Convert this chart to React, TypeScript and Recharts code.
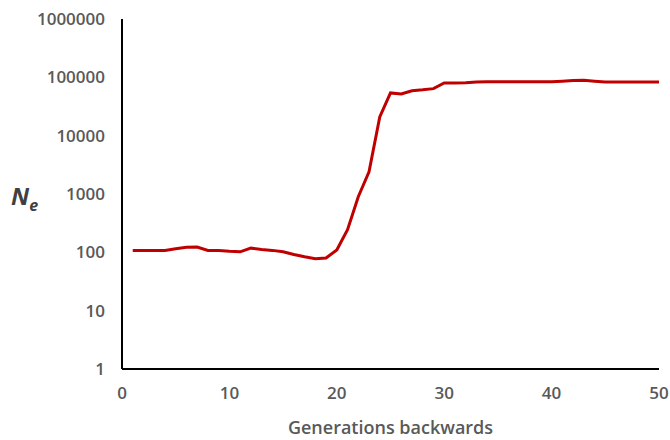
// @ts-nocheck
import { LineChart, Line, XAxis, YAxis } from "recharts";

const GENERATIONS = [
  1, 2, 3, 4, 5, 6, 7, 8, 9, 10, 11, 12, 13, 14, 15, 16, 17, 18, 19, 20, 21, 22, 23, 24, 25,
  26, 27, 28, 29, 30, 31, 32, 33, 34, 35, 36, 37, 38, 39, 40, 41, 42, 43, 44, 45, 46, 47, 48, 49, 50,
];
const NE = [
  108, 108, 108, 108, 115, 122, 123, 108, 108, 104, 102, 118, 112, 108, 102, 92, 84, 78, 80, 110,
  245, 900, 2400, 21000, 54000, 52000, 59000, 61000, 64000, 80000, 80000, 81000, 83000, 84000, 84000,
  84000, 84000, 84000, 84000, 84000, 86000, 88000, 89000, 86000, 83000, 83000, 83000, 83000, 83000, 83000,
];
const X_TICKS = [0, 10, 20, 30, 40, 50];
const Y_TICKS = [1, 10, 100, 1000, 10000, 100000, 1000000];

const data = GENERATIONS.map((g, i) => ({ gen: g, ne: NE[i] }));

const FONT = "'Open Sans', 'DejaVu Sans', sans-serif";
const tickStyle = { fontSize: 17, fill: "#595959", fontWeight: 600, fontFamily: FONT };

const NeLabel = () => (
  <text x={11} y={205} fill="#404040" fontFamily={FONT} fontStyle="italic" fontWeight={700} fontSize={24}>
    N<tspan fontSize={16} dy={6}>e</tspan>
  </text>
);

export default function App() {
  return (
    <div style={{ position: "absolute", left: 0, top: 0, width: 670, height: 440, background: "#fff" }}>
      <LineChart width={670} height={440} data={data} margin={{ top: 19, right: 11, bottom: 0, left: 0 }}>
        <XAxis
          dataKey="gen"
          type="number"
          domain={[0, 50]}
          ticks={X_TICKS}
          height={71}
          tickLine={false}
          tickSize={0}
          tickMargin={18}
          axisLine={{ stroke: "#000", strokeWidth: 2 }}
          tick={tickStyle}
          label={{
            value: "Generations backwards",
            position: "insideBottom",
            offset: 6,
            fill: "#595959",
            fontSize: 18,
            fontWeight: 600,
            fontFamily: FONT,
          }}
        />
        <YAxis
          scale="log"
          domain={[1, 1000000]}
          ticks={Y_TICKS}
          allowDataOverflow
          width={122}
          tickLine={false}
          tickSize={0}
          tickMargin={17}
          axisLine={{ stroke: "#000", strokeWidth: 2 }}
          tick={tickStyle}
          label={{ content: () => <NeLabel /> }}
        />
        <Line
          type="linear"
          dataKey="ne"
          stroke="#C00000"
          strokeWidth={3}
          dot={false}
          isAnimationActive={false}
        />
      </LineChart>
    </div>
  );
}
